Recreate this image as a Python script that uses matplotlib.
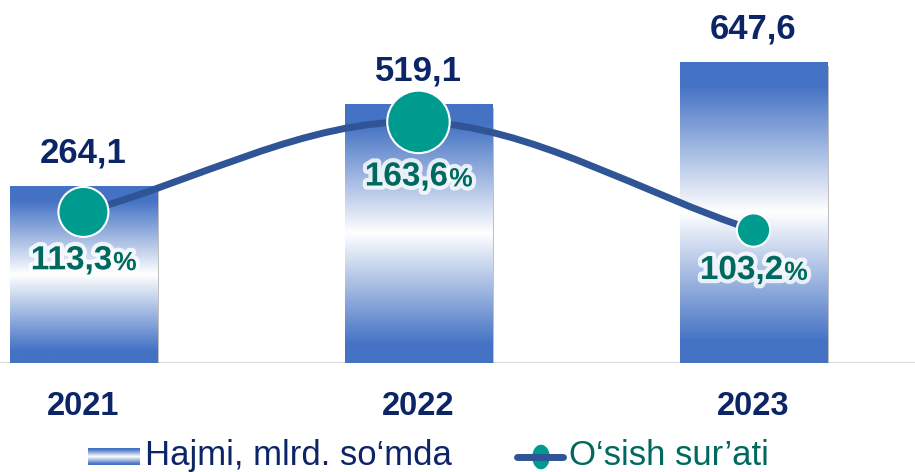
import numpy as np
import matplotlib.pyplot as plt
from matplotlib.colors import LinearSegmentedColormap
from matplotlib.path import Path
from matplotlib.patches import PathPatch, Ellipse
from matplotlib.lines import Line2D
import matplotlib.patheffects as pe

plt.rcParams['font.family'] = ['Liberation Sans', 'DejaVu Sans']

years = ['2021', '2022', '2023']
volume = [264.1, 519.1, 647.6]          # Hajmi, mlrd. so'mda
volume_labels = ['264,1', '519,1', '647,6']
growth = [113.3, 163.6, 103.2]          # O'sish sur'ati, %
growth_labels = ['113,3', '163,6', '103,2']

# styling
blue = '#4472C4'
navy = '#0B2567'
line_col = '#2F5597'
teal = '#009B8F'
teal_txt = '#00695F'
marker_d = [36, 45, 24]   # marker diameters, points
BASE = -280               # bar baseline on the value axis

cmap = LinearSegmentedColormap.from_list(
    'bar', [(0, blue), (0.08, blue), (0.5, 'white'), (0.93, blue), (1, blue)])
grad = np.linspace(0, 1, 256).reshape(-1, 1)

fig = plt.figure(figsize=(9.15, 4.72), dpi=100)
ax = fig.add_axes([0, 109 / 472, 1, 363 / 472])
x = np.arange(len(years))

bars = ax.bar(x, [v - BASE for v in volume], bottom=BASE, width=0.44,
              color=blue, zorder=2)
for b in bars:
    b.set_path_effects([pe.SimplePatchShadow(offset=(1, -3), shadow_rgbFace='#777777', alpha=0.45),
                        pe.Normal()])
    x0, y0 = b.get_x(), b.get_y()
    im = ax.imshow(grad, cmap=cmap, aspect='auto', zorder=3,
                   extent=(x0, x0 + b.get_width(), y0, y0 + b.get_height()))
    im.set_clip_path(b)

ax.set_xlim(-0.249, 2.482)
ax.set_ylim(BASE, BASE + 363 / 0.3245)
ax.axhline(BASE, color='#D9D9D9', lw=1.5, zorder=1)
for s in ax.spines.values():
    s.set_visible(False)
ax.set_xticks([])
ax.set_yticks([])

for xi, v, lab in zip(x, volume, volume_labels):
    ax.annotate(lab, xy=(xi, v), xytext=(0, 17), textcoords='offset points',
                ha='center', va='baseline', fontsize=25, fontweight='bold', color=navy)
for xi, yr in zip(x, years):
    ax.annotate(yr, xy=(xi, BASE), xytext=(0, -31), textcoords='offset points',
                ha='center', va='center', fontsize=23.5, fontweight='bold', color=navy)

# growth line on a second axis
ax2 = ax.twinx()
ax2.set_xlim(ax.get_xlim())
ax2.set_ylim(28.9, 231.7)
ax2.axis('off')

pts = np.column_stack([x, growth]).astype(float)
n = len(pts)
tang = []
for i in range(n):
    if i == 0:
        tang.append(pts[1] - pts[0])
    elif i == n - 1:
        tang.append(pts[-1] - pts[-2])
    else:
        tang.append((pts[i + 1] - pts[i - 1]) / 2)
verts = [pts[0]]
codes = [Path.MOVETO]
for i in range(n - 1):
    verts += [pts[i] + tang[i] / 3, pts[i + 1] - tang[i + 1] / 3, pts[i + 1]]
    codes += [Path.CURVE4] * 3
ax2.add_patch(PathPatch(Path(verts, codes), fill=False, ec=line_col, lw=5,
                        capstyle='round', zorder=3))
ax2.scatter(x, growth, s=[d ** 2 for d in marker_d], c=teal,
            edgecolors='white', linewidths=1.5, zorder=4)

glow = [pe.withStroke(linewidth=6, foreground='white', alpha=0.8)]
for xi, g, lab, d in zip(x, growth, growth_labels, marker_d):
    t = ax2.annotate(lab, xy=(xi, g), xytext=(-8.5, -(d / 2 + 6)),
                     textcoords='offset points', ha='center', va='top',
                     fontsize=24, fontweight='bold', color=teal_txt,
                     path_effects=glow, zorder=5)
    ax2.annotate('%', xy=(1, 0), xycoords=t, xytext=(0.5, 0.8),
                 textcoords='offset points', ha='left', va='bottom',
                 fontsize=19, fontweight='bold', color=teal_txt,
                 path_effects=glow, zorder=5)

# legend
lax = fig.add_axes([88 / 915, (472 - 465) / 472, 52 / 915, 17 / 472])
lax.imshow(grad, cmap=cmap, aspect='auto')
lax.axis('off')
fig.text(145 / 915, 7 / 472, 'Hajmi, mlrd. so\u2018mda', fontsize=25,
         color=navy, va='baseline')
fig.add_artist(Line2D([517 / 915, 563 / 915], [1 - 457 / 472] * 2,
                      transform=fig.transFigure, color=line_col, lw=5,
                      solid_capstyle='round'))
fig.add_artist(Ellipse((541 / 915, 1 - 457 / 472), 19 / 915, 26 / 472,
                       transform=fig.transFigure, facecolor=teal,
                       edgecolor='white', lw=1))
fig.text(569 / 915, 7 / 472, 'O\u2018sish sur\u2019ati', fontsize=25,
         color=teal_txt, va='baseline')

fig.savefig('out.png', dpi=100)
